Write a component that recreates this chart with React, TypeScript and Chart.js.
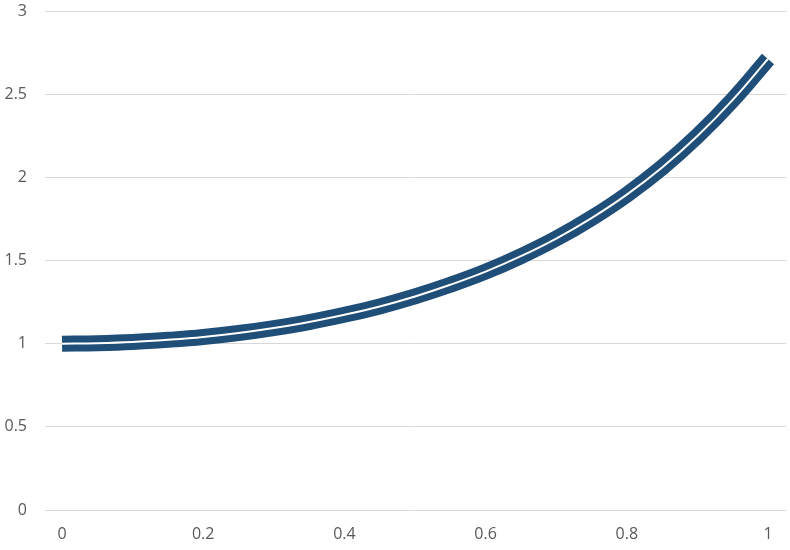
import React, { useEffect, useRef } from "react";
import { Chart, registerables } from "chart.js";

Chart.register(...registerables);

const xValues = [0, 0.05, 0.1, 0.15, 0.2, 0.25, 0.3, 0.35, 0.4, 0.45, 0.5, 0.55, 0.6, 0.65, 0.7, 0.75, 0.8, 0.85, 0.9, 0.95, 1.0];
const yValues = [1.0, 1.003, 1.01, 1.023, 1.04, 1.064, 1.094, 1.13, 1.174, 1.224, 1.284, 1.354, 1.433, 1.526, 1.632, 1.755, 1.896, 2.059, 2.248, 2.466, 2.712];
const xTicks = [0, 0.2, 0.4, 0.6, 0.8, 1];
const yTicks = [0, 0.5, 1, 1.5, 2, 2.5, 3];

export default function App() {
  const ref = useRef<HTMLCanvasElement | null>(null);
  useEffect(() => {
    document.body.style.margin = "0";
    const pts = xValues.map((x, i) => ({ x, y: yValues[i] }));
    const font = { family: "'Open Sans', 'Liberation Sans', sans-serif", size: 16 };
    const chart = new Chart(ref.current as HTMLCanvasElement, {
      type: "scatter",
      data: {
        datasets: [
          {
            data: pts,
            showLine: true,
            borderColor: "#ffffff",
            borderWidth: 2,
            pointRadius: 0,
            tension: 0.4,
            order: 0,
          },
          {
            data: pts,
            showLine: true,
            borderColor: "#1f4e79",
            borderWidth: 16,
            pointRadius: 0,
            tension: 0.4,
            order: 1,
          },
        ],
      },
      options: {
        animation: false,
        responsive: false,
        maintainAspectRatio: false,
        layout: { padding: { left: 0, right: 4, top: 11, bottom: 0 } },
        plugins: { legend: { display: false }, tooltip: { enabled: false } },
        scales: {
          x: {
            type: "linear",
            min: -0.0241,
            max: 1.0255,
            afterBuildTicks: (s: any) => {
              s.ticks = xTicks.map((v) => ({ value: v }));
            },
            afterFit: (s: any) => {
              s.height = 40;
              s.paddingLeft = 0;
              s.paddingRight = 0;
            },
            grid: { display: false, drawTicks: false },
            border: { display: false },
            ticks: {
              font,
              color: "#595959",
              padding: 15,
              maxRotation: 0,
              autoSkip: false,
              callback: (v: any) => String(v),
            },
          },
          y: {
            type: "linear",
            min: 0,
            max: 3,
            afterBuildTicks: (s: any) => {
              s.ticks = yTicks.map((v) => ({ value: v }));
            },
            afterFit: (s: any) => {
              s.width = 45;
              s.paddingTop = 0;
              s.paddingBottom = 0;
            },
            grid: { color: "#d9d9d9", lineWidth: 1, drawTicks: false },
            border: { display: false },
            ticks: {
              font,
              color: "#595959",
              padding: 18,
              callback: (v: any) => String(v),
            },
          },
        },
      },
    } as any);
    return () => chart.destroy();
  }, []);
  return (
    <div style={{ width: 790, height: 550 }}>
      <canvas ref={ref} width={790} height={550} style={{ width: 790, height: 550, display: "block" }} />
    </div>
  );
}
